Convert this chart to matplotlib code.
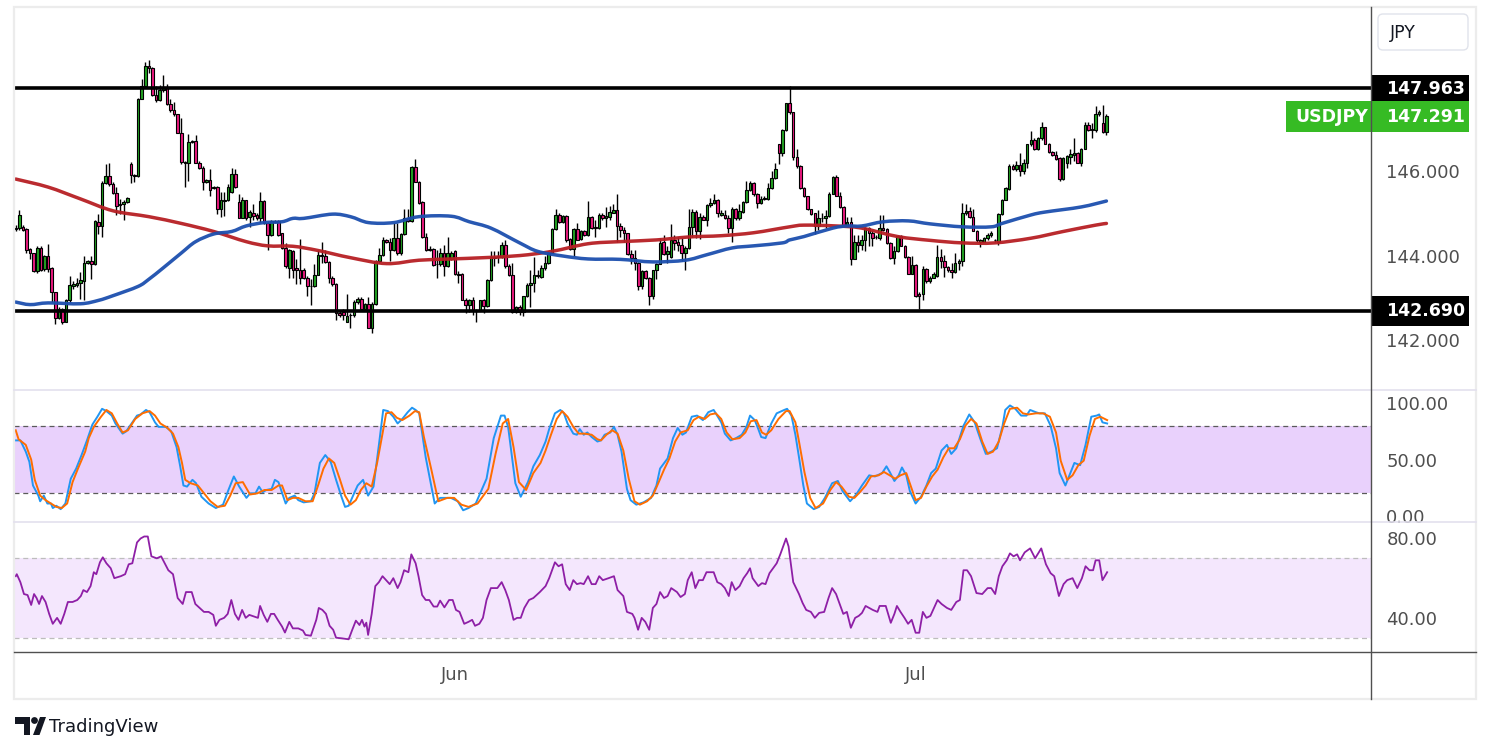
import numpy as np
import matplotlib
matplotlib.use("Agg")
import matplotlib.pyplot as plt
from matplotlib.patches import Rectangle, FancyBboxPatch, Polygon, Circle, PathPatch
from matplotlib.path import Path
from matplotlib.lines import Line2D

# ---------------- DATA (USDJPY, 4H candles) ----------------
opens = [144.66,144.65,144.68,144.63,144.16,144.05,143.64,144.18,143.69,144.00,
 143.71,143.13,142.53,142.73,142.43,142.94,143.29,143.31,143.36,143.40,
 143.83,143.86,143.79,144.80,144.70,145.72,145.88,145.69,145.48,145.23,
 145.23,145.27,146.17,145.89,145.89,147.71,148.02,148.49,148.43,147.79,
 147.67,147.91,147.96,147.58,147.44,147.34,146.91,146.22,146.18,146.68,
 146.70,146.20,146.07,145.75,145.79,145.62,145.62,145.09,145.29,145.31,
 145.50,145.93,145.27,144.90,145.31,144.92,145.01,144.96,144.88,145.28,
 144.76,144.49,144.80,144.82,144.53,144.18,143.71,144.10,143.71,143.67,
 143.66,143.48,143.29,143.27,143.55,144.02,144.00,143.85,143.48,143.33,
 142.63,142.67,142.43,142.59,142.59,142.90,142.98,142.74,142.86,142.29,
 142.86,143.87,144.02,144.36,144.33,144.12,144.41,144.05,144.51,144.90,
 144.82,146.10,145.75,145.27,144.44,144.16,144.16,143.79,143.79,144.05,
 143.75,143.91,144.10,143.56,143.56,142.96,142.84,142.94,142.70,142.70,
 142.94,142.80,143.42,143.95,143.97,143.97,144.26,143.75,143.53,142.67,
 142.78,142.67,143.04,143.30,143.36,143.52,143.50,143.71,143.83,144.06,
 144.62,144.96,144.80,144.93,144.39,144.16,144.62,144.39,144.59,144.49,
 144.92,144.65,144.65,144.97,144.88,144.92,145.01,145.07,144.71,144.61,
 144.53,144.04,143.95,143.83,143.29,143.64,143.48,143.04,143.65,143.81,
 144.31,144.04,143.97,144.37,144.31,144.26,144.06,144.18,144.68,145.03,
 144.59,144.92,144.85,145.20,145.24,145.32,144.96,144.97,144.88,144.66,
 145.11,144.88,145.03,145.27,145.54,145.71,145.45,145.24,145.34,145.34,
 145.59,145.83,146.63,146.43,146.98,147.60,147.39,146.33,146.12,145.60,
 145.41,145.09,145.00,144.70,144.88,144.88,144.93,145.46,145.86,145.42,
 145.15,144.70,144.80,143.92,144.31,144.26,144.36,144.65,144.54,144.44,
 144.41,144.65,144.62,144.30,143.95,144.10,144.47,144.23,143.97,143.57,
 143.77,143.09,143.09,143.69,143.39,143.48,143.52,143.97,143.87,143.74,
 143.67,143.61,143.83,143.87,145.00,145.05,144.92,144.59,144.33,144.33,
 144.41,144.49,144.36,144.33,144.98,145.32,145.58,146.12,146.04,146.14,
 145.99,146.18,146.63,146.74,146.51,146.77,147.03,146.64,146.45,146.39,
 146.31,145.81,146.20,146.33,146.39,146.43,146.20,146.53,147.08,146.97,
 146.97,147.35,147.13,146.92]
highs = [144.72,145.07,144.72,144.65,144.18,144.06,144.22,144.22,144.02,144.28,
 143.74,143.15,142.78,142.76,142.98,143.52,143.40,143.46,143.60,143.99,
 143.89,143.99,144.84,144.99,145.77,146.16,146.18,145.73,145.62,145.34,
 145.31,145.38,146.22,145.93,147.73,148.18,148.57,148.63,148.45,148.02,
 148.04,148.26,148.06,147.71,147.64,147.36,147.25,146.24,146.87,146.74,
 146.86,146.24,146.12,145.80,146.04,145.65,145.65,145.50,145.50,145.69,
 146.08,146.04,145.46,145.38,145.32,145.07,145.23,145.00,145.50,145.31,
 144.80,144.84,144.85,144.84,144.54,144.30,144.16,144.14,143.91,144.39,
 143.71,143.52,143.44,143.79,144.14,144.31,144.14,143.87,143.52,143.36,
 142.70,142.74,143.09,142.63,142.94,143.01,143.01,142.88,143.01,142.90,
 143.89,144.18,144.45,144.39,144.41,144.76,144.76,144.53,145.09,145.09,
 146.12,146.28,145.77,145.29,144.54,144.22,144.18,144.14,144.18,144.26,
 144.44,144.10,144.14,143.64,143.58,142.99,142.98,143.01,142.74,142.96,
 142.98,143.44,144.10,144.10,144.10,144.33,144.37,143.79,143.83,142.80,
 142.82,143.05,143.35,143.67,143.97,143.67,143.77,143.99,144.10,144.65,
 145.09,145.00,144.96,144.96,144.41,144.65,144.76,144.61,144.61,145.29,
 144.93,144.84,145.00,145.00,145.15,145.17,145.23,145.46,144.76,144.68,
 144.54,144.12,144.12,143.85,143.67,143.67,143.50,143.67,143.83,144.41,
 144.49,144.22,144.75,144.49,144.44,144.41,144.22,145.11,145.11,145.07,
 145.00,144.96,145.23,145.37,145.45,145.34,145.07,145.07,144.96,145.15,
 145.13,145.23,145.29,145.76,145.76,145.73,145.48,145.40,145.40,145.71,
 145.99,146.20,146.64,147.00,147.62,148.01,147.40,146.51,146.14,145.62,
 145.42,145.11,145.01,145.07,145.01,145.07,145.50,145.89,145.91,145.50,
 145.17,144.92,144.92,144.49,144.49,144.49,144.68,144.68,144.61,144.49,
 144.96,144.96,144.65,144.31,144.22,144.49,144.49,144.26,143.99,143.99,
 143.79,143.13,143.75,143.71,143.52,143.61,144.26,144.16,144.02,143.75,
 143.83,144.05,143.91,145.24,145.23,145.15,145.11,144.61,144.39,144.44,
 144.53,144.57,144.39,145.01,145.34,145.63,146.16,146.16,146.24,146.43,
 146.28,146.64,146.95,146.77,146.80,147.15,147.05,146.66,146.47,146.47,
 146.33,146.33,146.38,146.51,146.77,146.45,146.55,147.15,147.15,147.13,
 147.54,147.44,147.57,147.34]
lows = [144.57,144.61,144.57,144.06,143.92,143.60,143.58,143.64,143.64,143.61,
 142.90,142.39,142.51,142.39,142.42,142.90,143.21,143.25,142.98,142.94,
 143.79,143.44,143.77,144.51,144.45,145.69,145.65,145.46,144.96,144.99,
 144.84,145.24,145.71,145.73,145.86,147.70,148.01,148.33,147.77,147.64,
 147.65,147.87,147.56,147.40,147.31,146.90,146.16,145.62,145.77,146.66,
 146.18,146.04,145.54,145.72,145.42,145.58,144.99,144.92,144.94,145.29,
 145.48,145.60,144.88,144.88,144.85,144.68,144.84,144.84,144.76,144.75,
 144.14,144.47,144.76,144.47,144.16,143.71,143.48,143.48,143.33,143.33,
 143.44,143.05,142.82,143.26,143.53,143.83,143.83,143.36,143.29,142.47,
 142.55,142.47,142.42,142.28,142.55,142.86,142.70,142.73,142.28,142.16,
 142.84,143.83,143.99,144.30,143.87,144.10,144.02,144.02,144.49,144.80,
 144.80,145.73,145.23,144.41,144.10,144.10,143.75,143.46,143.75,143.52,
 143.74,143.89,143.54,143.36,142.94,142.63,142.67,142.59,142.42,142.68,
 142.64,142.78,143.40,143.75,143.83,143.95,143.71,143.52,142.63,142.63,
 142.59,142.57,143.01,142.78,143.13,143.48,143.48,143.67,143.81,144.05,
 144.61,144.78,144.78,144.33,144.14,143.99,144.36,144.37,144.47,144.47,
 144.62,144.45,144.62,144.84,144.68,144.84,145.00,144.33,144.45,144.33,
 144.02,143.79,143.67,143.19,143.21,143.44,142.84,142.98,143.44,143.79,
 144.02,143.83,143.95,144.14,144.10,143.87,143.66,144.16,144.45,144.41,
 144.39,144.84,144.70,145.15,145.21,144.92,144.93,144.86,144.54,144.33,
 144.85,144.85,145.01,145.24,145.52,145.42,145.13,145.21,145.31,145.32,
 145.58,145.81,146.16,146.35,146.95,147.36,146.25,146.08,145.58,145.38,
 145.07,144.96,144.51,144.61,144.80,144.65,144.92,145.45,145.41,145.13,
 144.68,144.68,143.77,143.91,144.08,144.14,144.10,144.22,144.22,144.39,
 144.37,144.57,144.28,143.91,143.79,144.08,144.22,143.95,143.56,143.56,
 143.01,142.73,142.96,143.36,143.36,143.46,143.50,143.71,143.50,143.61,
 143.48,143.58,143.67,143.75,144.96,144.88,144.57,144.33,144.20,144.31,
 144.37,144.45,144.33,144.24,144.96,145.31,145.55,146.02,145.99,145.89,
 145.94,146.07,146.59,146.49,146.49,146.74,146.63,146.43,146.35,146.25,
 145.77,145.79,146.07,146.16,146.24,146.18,146.12,146.51,146.94,146.77,
 146.92,147.31,146.90,146.86]
closes = [144.63,144.96,144.61,144.14,144.05,143.64,144.18,143.67,144.00,143.69,
 143.13,142.53,142.74,142.43,142.96,143.30,143.33,143.36,143.42,143.83,
 143.86,143.79,144.82,144.70,145.72,145.88,145.69,145.48,145.17,145.19,
 145.27,145.37,145.91,145.91,147.71,148.02,148.49,148.43,147.79,147.67,
 147.91,147.96,147.58,147.44,147.34,146.91,146.22,146.18,146.68,146.72,
 146.20,146.07,145.75,145.79,145.55,145.61,145.09,145.31,145.31,145.62,
 145.93,145.62,144.90,145.31,144.88,145.03,144.94,144.88,145.28,144.76,
 144.49,144.82,144.82,144.49,144.18,143.75,144.14,143.67,143.67,143.48,
 143.48,143.29,143.27,143.55,144.02,144.00,143.85,143.48,143.33,142.63,
 142.59,142.59,142.57,142.59,142.90,142.98,142.74,142.86,142.29,142.86,
 143.87,144.02,144.37,144.32,144.12,144.41,144.05,144.51,144.90,144.82,
 146.10,145.75,145.24,144.44,144.14,144.14,143.77,143.79,144.05,143.75,
 144.05,144.05,143.56,143.55,142.96,142.84,142.94,142.70,142.70,142.94,
 142.80,143.42,143.97,143.97,143.99,144.26,143.75,143.53,142.67,142.78,
 142.67,143.04,143.30,143.36,143.53,143.52,143.71,143.83,144.06,144.62,
 144.96,144.80,144.93,144.37,144.16,144.62,144.37,144.59,144.49,144.92,
 144.65,144.65,144.97,144.88,144.93,145.02,145.07,144.71,144.61,144.53,
 144.04,143.95,143.83,143.29,143.64,143.48,143.04,143.65,143.81,144.30,
 144.04,144.10,144.37,144.30,144.26,144.06,144.18,144.68,145.03,144.59,
 144.92,144.85,145.20,145.24,145.31,145.01,145.01,144.88,144.66,145.11,
 144.88,145.05,145.27,145.54,145.71,145.45,145.24,145.34,145.36,145.59,
 145.83,146.04,146.43,146.98,147.60,147.39,146.33,146.11,145.60,145.41,
 145.09,144.98,144.70,144.88,144.88,144.93,145.46,145.86,145.42,145.15,
 144.70,144.80,143.92,144.31,144.26,144.36,144.65,144.54,144.41,144.43,
 144.65,144.61,144.30,143.95,144.10,144.47,144.23,143.97,143.57,143.77,
 143.04,143.04,143.69,143.39,143.48,143.56,143.97,143.87,143.74,143.67,
 143.61,143.83,143.88,145.00,145.05,144.92,144.59,144.36,144.37,144.41,
 144.49,144.53,144.36,144.98,145.32,145.60,146.12,146.04,146.14,146.00,
 146.20,146.63,146.74,146.51,146.78,147.03,146.64,146.45,146.39,146.28,
 145.81,146.30,146.35,146.41,146.43,146.20,146.53,147.08,146.97,146.97,
 147.36,147.40,146.92,147.29]

# moving averages (read at candle indices)
ma_blue_idx = [0,4,9,18,23,27,34,37,41,46,50,55,60,64,69,74,77,80,88,93,98,105,112,121,126,132,
               140,145,152,159,168,177,186,192,199,205,213,215,219,227,231,235,241,248,254,263,
               271,274,282,286,296,303]
ma_blue_val = [142.90,142.84,142.88,142.86,142.94,143.05,143.27,143.44,143.71,144.06,144.33,144.51,
               144.57,144.70,144.78,144.80,144.88,144.88,144.98,144.92,144.78,144.78,144.92,144.93,
               144.80,144.65,144.30,144.10,143.99,143.92,143.91,143.85,143.89,144.02,144.18,144.23,
               144.30,144.37,144.45,144.65,144.70,144.70,144.80,144.82,144.75,144.68,144.68,144.76,
               144.96,145.03,145.15,145.29]
ma_red_idx = [0,9,18,27,37,46,55,64,70,77,84,93,103,112,121,130,140,149,159,168,178,187,196,205,
              215,219,228,235,245,254,263,272,282,291,300,303]
ma_red_val = [145.81,145.62,145.34,145.06,144.92,144.76,144.57,144.33,144.23,144.22,144.12,143.95,
              143.81,143.89,143.92,143.95,144.00,144.10,144.28,144.33,144.37,144.44,144.47,144.54,
              144.68,144.72,144.70,144.65,144.45,144.36,144.30,144.30,144.41,144.57,144.72,144.76]

# horizontal levels
resistance = 147.963
support = 142.690
last_price = 147.291
symbol = "USDJPY"
currency = "JPY"

# stochastic %K and %D
stoch_k_idx = [0,1.3,2.8,3.8,4.8,6.3,6.8,7.8,8.8,9.8,10.3,11.3,12.5,13.8,15.3,16.8,18.3,19.8,21.3,22.7,
 24.0,25.2,26.7,27.7,29.7,30.7,32.2,33.7,34.7,36.2,37.2,38.7,39.7,41.7,43.2,44.7,45.7,46.6,47.6,49.1,
 50.1,51.6,53.6,55.6,57.6,59.1,60.6,62.1,64.1,65.1,66.6,67.6,68.6,69.6,71.1,72.0,73.0,75.0,76.0,77.5,
 78.5,80.0,82.0,83.0,84.5,86.0,87.5,89.0,90.5,91.5,92.5,94.0,95.0,96.5,97.9,99.4,100.9,102.1,103.4,104.9,
 106.1,107.4,108.9,110.1,111.1,112.1,113.9,116.4,117.9,120.9,122.8,124.3,125.8,127.8,130.8,132.8,134.8,
 135.8,136.8,138.8,140.3,142.3,143.8,145.6,147.2,148.2,149.8,151.3,152.3,153.3,154.9,155.9,156.7,157.8,
 158.8,160.0,161.6,162.6,163.6,165.2,166.2,167.2,168.3,169.8,170.8,172.4,174.4,176.5,178.0,179.0,181.1,
 182.6,183.9,185.2,186.2,187.8,189.3,190.9,192.4,193.9,196.0,197.0,198.6,200.1,201.7,203.0,204.0,205.3,
 206.3,207.1,208.3,209.9,211.4,213.5,214.3,215.5,216.6,217.6,218.8,219.8,221.7,223.2,224.8,226.8,228.4,
 229.7,231.8,233.5,235.1,237.1,238.7,240.7,241.9,242.8,244.1,245.3,246.2,247.4,248.4,250.0,251.5,253.0,
 254.3,255.6,257.2,258.7,259.9,261.3,263.3,264.9,266.4,267.9,269.5,271.0,272.6,274.1,274.9,276.2,277.7,
 279.3,280.8,281.8,283.4,284.4,285.9,287.5,289.0,290.0,291.6,292.6,294.1,295.7,297.2,298.8,300.3,301.0,
 301.9,303.2]
stoch_k_val = [67,67,57,48,27,18,13,18,11,11,7,9,6,11,33,42,54,67,81,88,
 95,93,89,82,73,75,82,89,90,94,92,83,79,79,75,61,44,27,26,32,
 29,17,11,7,10,23,35,26,16,20,20,26,21,23,24,32,30,11,16,18,
 14,12,13,20,47,54,48,32,17,8,9,20,27,32,18,26,63,94,93,88,
 82,86,92,96,94,91,52,11,16,16,13,5,7,11,33,69,89,
 89,79,29,17,30,44,54,66,77,91,94,91,82,73,72,77,72,
 74,70,66,67,72,74,79,72,57,24,14,10,12,16,27,42,51,
 69,78,72,74,88,89,85,92,94,83,73,67,69,72,79,89,85,
 77,70,69,82,91,94,95,89,72,52,27,11,6,8,16,29,31,
 22,13,19,27,36,35,38,44,39,31,36,43,36,22,11,17,27,
 38,42,58,63,55,60,80,90,83,69,55,57,60,79,94,98,95,
 89,89,94,92,91,91,80,60,38,27,35,47,45,63,88,89,90,
 83,82]
stoch_d_idx = [0,0.8,2.8,4.3,5.3,6.8,8.3,9.8,11.3,12.8,14.3,15.8,17.3,19.3,20.3,21.7,23.7,25.2,26.7,28.2,
 29.7,31.2,33.2,35.2,37.2,38.7,40.2,42.2,43.7,45.2,46.2,47.1,48.6,50.6,52.1,54.1,56.1,58.1,59.6,61.1,
 63.1,65.1,67.1,69.1,71.1,73.0,74.0,75.5,77.0,78.5,80.5,82.5,84.0,85.5,87.0,88.5,90.0,91.5,93.0,94.5,
 95.9,97.4,98.9,100.4,101.9,102.9,104.4,105.9,107.4,109.4,110.9,112.1,113.4,115.4,117.4,119.9,121.8,
 123.8,125.8,128.3,131.3,133.3,135.3,136.8,138.3,139.8,141.8,143.8,145.8,147.2,148.7,150.3,151.8,153.3,
 154.9,156.4,158.0,160.0,161.6,162.6,164.1,165.7,167.2,168.8,170.3,171.9,173.4,175.4,177.0,178.5,180.1,
 181.6,183.2,184.7,186.7,188.3,189.8,191.4,192.9,194.5,196.0,197.5,199.1,201.1,202.7,204.2,205.8,207.3,
 208.5,209.9,211.9,214.0,215.0,216.6,217.6,219.1,220.7,222.2,224.3,226.3,227.9,229.4,231.5,233.0,234.5,
 236.1,237.6,239.7,241.2,242.8,244.3,245.8,247.4,248.9,250.0,251.5,253.0,254.6,256.1,257.7,259.2,260.7,
 262.3,263.8,265.4,266.9,268.5,270.0,271.5,273.1,274.6,276.2,278.2,279.8,281.3,283.4,285.4,287.3,289.0,
 290.3,292.1,293.6,295.2,296.7,298.3,299.8,301.3,303.2]
stoch_d_val = [76,68,63,50,32,18,14,11,8,7,11,30,42,57,69,79,88,94,91,82,
 74,76,86,91,93,89,82,78,73,61,47,32,29,27,21,13,8,9,18,29,
 30,19,20,23,23,27,27,14,16,16,13,13,27,42,51,47,33,18,10,14,
 23,29,26,47,73,91,92,87,85,89,93,92,70,42,13,16,16,
 10,8,11,24,55,82,86,61,30,23,38,47,58,72,86,93,88,
 79,73,73,72,68,67,72,76,73,58,33,13,10,13,18,29,41,
 51,66,74,76,85,88,86,90,91,86,74,68,69,74,84,85,74,
 72,76,86,93,93,83,66,39,16,7,11,23,30,26,17,16,21,
 27,35,36,39,36,33,36,38,24,14,16,26,35,41,52,60,60,
 68,80,86,82,66,55,57,66,82,95,96,91,90,91,91,88,74,
 49,32,36,45,49,71,86,88,85]

# RSI
rsi_idx = [0,0.3,1.3,2.3,3.3,4.3,5.1,5.8,6.5,7.3,8.3,9.3,10.3,11.5,12.5,13.5,14.5,15.8,17.1,18.1,
 18.8,19.8,20.8,21.7,22.4,23.4,24.2,25.2,26.4,27.4,29.2,30.4,31.4,32.4,33.7,34.7,35.7,36.7,37.7,39.2,
 40.4,41.4,42.4,43.7,45.0,46.4,47.3,48.9,49.9,51.1,52.3,53.6,54.9,55.6,56.6,57.9,58.9,59.9,60.9,61.9,
 62.9,63.9,64.9,66.3,67.3,67.9,68.9,69.9,70.9,71.8,72.8,74.0,74.8,76.0,77.0,78.5,79.8,80.5,82.0,83.5,
 84.2,85.2,86.2,87.2,88.2,89.0,90.5,92.5,93.5,94.5,95.5,96.2,96.9,97.4,97.9,98.9,99.9,100.9,101.9,102.9,
 103.9,104.9,106.1,106.9,107.9,109.1,109.9,111.1,111.9,112.9,113.9,114.9,116.1,117.1,117.9,119.1,120.4,
 121.4,122.3,123.3,124.6,125.8,126.8,127.6,128.8,129.8,130.8,132.0,133.8,135.0,136.0,137.0,138.3,139.3,
 140.3,141.3,142.6,143.8,145.6,147.2,148.2,149.8,150.8,151.8,152.8,153.9,154.9,155.9,156.9,157.8,159.0,
 160.0,161.1,162.1,163.1,164.7,166.2,167.2,168.8,169.8,171.3,171.9,172.9,173.9,174.9,176.0,177.0,178.0,
 179.0,180.1,181.1,182.1,183.7,184.7,185.9,186.7,187.8,188.8,189.8,190.9,191.9,192.9,193.9,194.9,196.0,
 197.0,198.1,198.9,199.9,201.1,202.2,203.2,204.0,204.7,206.3,207.3,208.3,209.4,210.4,211.4,212.4,214.0,
 214.7,216.0,217.6,218.6,219.6,220.9,222.0,223.2,224.6,225.8,226.8,227.9,228.9,229.9,230.9,232.0,233.2,
 234.2,235.1,236.1,237.1,238.1,239.4,240.0,241.7,243.1,244.1,244.8,245.8,246.9,247.9,248.9,250.0,251.0,
 252.0,253.0,254.1,256.1,257.2,258.7,259.9,261.3,262.3,263.3,264.3,265.4,266.9,268.5,270.0,271.0,272.1,
 273.1,274.1,275.3,276.2,277.2,278.2,279.0,280.3,281.8,283.2,284.9,286.2,287.5,288.5,289.8,291.1,292.1,
 293.6,294.9,296.2,297.2,298.3,299.3,300.0,301.0,301.9,303.2]
rsi_val = [61,62,58,52,51.5,46.5,52,50,47,51,48,42,37,40,37,42,48,48,49,51,
 54,53,56,63,62,68,70.5,67.5,65,60,61,62,67,67.5,78,80,81,81,71,70,
 71,67.5,64,62,50,47,53,53,47,45,43,43,41.5,36,39,40,42,49,42,39,
 44,40,41.5,40.6,40,46,41.5,38,42,42,39,35.6,32.6,38,34.7,34.7,33.6,31.4,31,39,
 45,44,42,36,34,30,29.7,29.2,34,38.6,36.4,39,35.6,37.6,31.4,42,56,58,61,59,
 57,60,55,58,64,63,72,67.5,61,51.5,49,49,45.7,45.7,48.7,45.3,49,
 49,44,43,37,38,39,36,37,40,49,55,55,58,54,49,39,40,
 40,45,49,50,53,56,60,68,66,67,57,54,59,57,57.5,57,61,
 57,57,61,59,60,61,54,51,43,42,40,34,40,38,34,45,47,
 53,50,51,55,53,50.5,52,59,63,55,59,59,63,63,63,58,57,
 55,51,58,54,56,60,62.5,65,60,56,57.5,57,62.5,65,67.5,72,80,
 76,58,52,47.5,44,43,40,42.5,43,50,55,52,47,42,43,35,40,
 41,42.5,46,45,44,43,46,46,37.5,42,46,43,40,37,39,32.5,32.5,
 43,40,41,49,47,45,44,48,49,64,64,61,52.5,52,55,55,52,
 61,66,69,72.5,71,72,69,73,75,70,75,67,62.5,61,51,57,59,
 60,55,60,66,64,64,69,69,59,63]

# axes labels
price_ticks = [142.0, 144.0, 146.0]
stoch_ticks = [0, 50, 100]
rsi_ticks = [40, 80]
month_pos = [122, 250]
month_labels = ["Jun", "Jul"]

# ---------------- FIGURE ----------------
W, H = 1491, 752
fig = plt.figure(figsize=(W / 100, H / 100), dpi=100)
fig.patch.set_facecolor("white")

L, R = 14, 1371
def panel(top, bottom):
    return fig.add_axes([L / W, 1 - bottom / H, (R - L) / W, (bottom - top) / H])

ax_p = panel(7, 390)
ax_s = panel(390, 522)
ax_r = panel(522, 652)

XMIN, XMAX = -0.47, 376.5
TICK_COL = "#4f4f4f"
for ax in (ax_p, ax_s, ax_r):
    ax.set_xlim(XMIN, XMAX)
    for sp in ax.spines.values():
        sp.set_visible(False)
    ax.set_xticks([])
    ax.yaxis.tick_right()
    ax.tick_params(axis="y", length=0, pad=11, labelsize=13, labelcolor=TICK_COL)
    ax.set_facecolor("white")

def smooth_line(ax, xs, ys, color, lw):
    """Draw a smooth curve through the read points (Catmull-Rom as cubic Bezier path)."""
    P = np.column_stack([xs, ys]).astype(float)
    verts = [tuple(P[0])]
    codes = [Path.MOVETO]
    for i in range(len(P) - 1):
        p0 = P[i - 1] if i > 0 else P[i]
        p1, p2 = P[i], P[i + 1]
        p3 = P[i + 2] if i + 2 < len(P) else P[i + 1]
        c1 = p1 + (p2 - p0) / 6.0
        c2 = p2 - (p3 - p1) / 6.0
        verts += [tuple(c1), tuple(c2), tuple(p2)]
        codes += [Path.CURVE4] * 3
    ax.add_patch(PathPatch(Path(verts, codes), facecolor="none", edgecolor=color, lw=lw,
                           alpha=0.95, zorder=5, capstyle="round", joinstyle="round"))

# ---- price panel ----
ax_p.set_ylim(140.82, 149.88)
n = min(len(opens), len(highs), len(lows), len(closes))
x = np.arange(n)
o = np.array(opens[:n]); h = np.array(highs[:n]); l = np.array(lows[:n]); c = np.array(closes[:n])
up = c >= o
GREEN = "#22a422"
PINK = "#ec1a80"
ax_p.vlines(x, l, h, color="black", lw=1.0, zorder=3)
body_lo = np.minimum(o, c)
body_h = np.maximum(np.abs(c - o), 0.014)
ax_p.bar(x, body_h, bottom=body_lo, width=0.7,
         color=np.where(up, GREEN, PINK), edgecolor="black", linewidth=0.8, zorder=4)

smooth_line(ax_p, ma_red_idx, ma_red_val, "#b71f24", 2.5)
smooth_line(ax_p, ma_blue_idx, ma_blue_val, "#1c4fae", 2.5)
ax_p.axhline(resistance, color="black", lw=2.6, zorder=6)
ax_p.axhline(support, color="black", lw=2.6, zorder=6)
ax_p.set_yticks(price_ticks)
ax_p.set_yticklabels([f"{v:.3f}" for v in price_ticks])

# ---- stochastic panel ----
ax_s.set_ylim(-5.4, 111.7)
ax_s.axhspan(20, 80, color="#e9d1fc", lw=0, zorder=0)
for lv in (20, 80):
    ax_s.axhline(lv, color="#5a5a5a", lw=0.9, ls=(0, (4, 3)), zorder=1)
ax_s.plot(stoch_k_idx, stoch_k_val, color="#2196f3", lw=1.4, zorder=3)
ax_s.plot(stoch_d_idx, stoch_d_val, color="#ff6d00", lw=1.4, zorder=4)
ax_s.set_yticks(stoch_ticks)
ax_s.set_yticklabels([f"{v:.2f}" for v in stoch_ticks])

# ---- RSI panel ----
ax_r.set_ylim(22.8, 88.3)
ax_r.axhspan(30, 70, color="#f4e7fd", lw=0, zorder=0)
for lv in (30, 70):
    ax_r.axhline(lv, color="#bdbdbd", lw=0.9, ls=(0, (4, 3)), zorder=1)
ax_r.plot(rsi_idx, rsi_val, color="#8e1fa6", lw=1.3, zorder=3)
ax_r.set_yticks(rsi_ticks)
ax_r.set_yticklabels([f"{v:.2f}" for v in rsi_ticks])

for pos, lab in zip(month_pos, month_labels):
    ax_r.text(pos, -0.177, lab, transform=ax_r.get_xaxis_transform(), ha="center", va="center",
              fontsize=13, color=TICK_COL)

# ---------------- OVERLAY (frame, labels) ----------------
ov = fig.add_axes([0, 0, 1, 1])
ov.set_xlim(0, W)
ov.set_ylim(H, 0)
ov.axis("off")
ov.set_zorder(20)

def ypx(ax, v):
    return H - ax.transData.transform((0, v))[1]

# frame
ov.add_patch(Rectangle((14, 7), 1476 - 14, 699 - 7, fill=False, edgecolor="#ececec", lw=1.6))
for yy in (390, 522):
    ov.add_line(Line2D([14, 1476], [yy, yy], color="#e3e0ee", lw=1.2))
ov.add_line(Line2D([14, 1476], [652, 652], color="#505050", lw=1.0))

# price labels
def price_box(v, txt, color, x0=1372, w=97, hgt=28):
    yc = ypx(ax_p, v)
    ov.add_patch(Rectangle((x0, yc - hgt / 2), w, hgt, facecolor=color, edgecolor="none", zorder=5))
    ov.text(1386, yc + 0.5, txt, color="white", fontsize=12.5, fontweight="bold",
            ha="left", va="center", zorder=6)
    return yc

price_box(resistance, f"{resistance:.3f}", "black", hgt=27)
price_box(support, f"{support:.3f}", "black", hgt=30)
yc = price_box(last_price, f"{last_price:.3f}", "#36bb24", x0=1286, w=183, hgt=31)
ov.text(1295, yc + 0.5, symbol, color="white", fontsize=12.5, fontweight="bold",
        ha="left", va="center", zorder=6)

ov.add_line(Line2D([1371, 1371], [7, 699], color="#505050", lw=1.0, zorder=8))

# currency box
ov.add_patch(FancyBboxPatch((1378, 14), 90, 36, boxstyle="round,pad=0,rounding_size=5",
                            facecolor="white", edgecolor="#e0e3eb", lw=1.0))
ov.text(1390, 32.5, currency, color="#131722", fontsize=12.5, ha="left", va="center")

# TradingView logo
ov.add_patch(Polygon([(15, 717), (30, 717), (30, 735), (24, 735), (24, 723.5), (15, 723.5)],
                     closed=True, facecolor="#131722", edgecolor="none"))
ov.add_patch(Circle((34.5, 720.5), 3.4, facecolor="#131722", edgecolor="none"))
ov.add_patch(Polygon([(33, 735), (40, 717), (46, 717), (39.5, 735)],
                     closed=True, facecolor="#131722", edgecolor="none"))
ov.text(49, 726.5, "TradingView", color="#131722", fontsize=13, ha="left", va="center")

fig.savefig("out.png", dpi=100, facecolor="white")
